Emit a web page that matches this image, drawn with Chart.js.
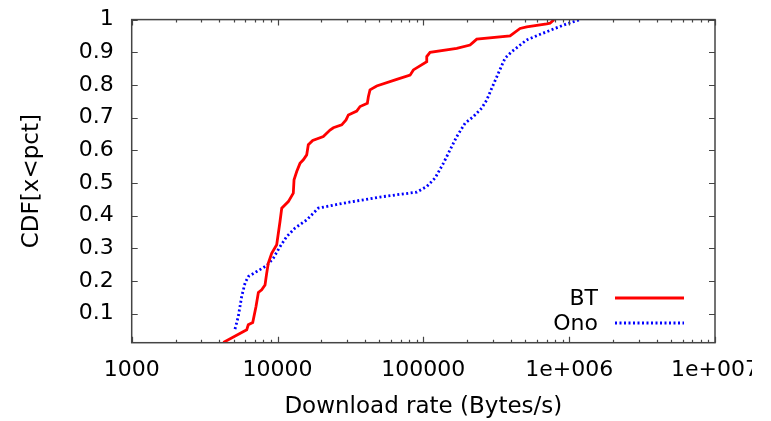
<!DOCTYPE html>
<html>
<head>
<meta charset="utf-8">
<script src="https://cdn.jsdelivr.net/npm/chart.js@4/dist/chart.umd.min.js"></script>
<style>
  html, body { margin: 0; padding: 0; background: #fff; }
  #wrap { width: 752px; height: 421px; overflow: hidden; }
  #wrap canvas { display: block; }
</style>
</head>
<body>
<div id="wrap"><canvas id="myChart" width="800" height="421"></canvas></div>
<script>
// CDF levels and download rates (Bytes/s)
var btCdf  = [0.012, 0.051, 0.066, 0.073, 0.122, 0.165, 0.173, 0.188, 0.224, 0.255, 0.285, 0.311, 0.382, 0.423, 0.443, 0.469, 0.51, 0.535, 0.56, 0.571, 0.586, 0.617, 0.63, 0.642, 0.662, 0.669, 0.678, 0.693, 0.708, 0.72, 0.734, 0.744, 0.764, 0.785, 0.797, 0.817, 0.83, 0.846, 0.871, 0.887, 0.9, 0.912, 0.922, 0.931, 0.94, 0.95, 0.973, 0.978, 0.987, 0.989, 1.0];
var btRate = [4250, 6150, 6300, 6760, 7120, 7390, 7790, 8210, 8430, 8650, 9120, 9870, 10400, 10690, 11860, 12830, 12980, 13540, 14260, 15030, 15850, 16260, 17430, 20610, 22910, 24150, 27560, 29500, 30600, 34930, 36810, 41300, 41970, 43080, 47860, 65700, 81100, 85400, 105500, 105500, 111200, 169500, 209000, 220300, 232400, 393300, 460500, 511700, 701900, 739500, 787500];

var onoCdf  = [0.053, 0.091, 0.153, 0.194, 0.214, 0.229, 0.247, 0.27, 0.305, 0.336, 0.362, 0.387, 0.423, 0.44, 0.457, 0.472, 0.489, 0.515, 0.56, 0.601, 0.642, 0.683, 0.703, 0.729, 0.754, 0.79, 0.836, 0.882, 0.902, 0.938, 0.963, 0.987, 1.0];
var onoRate = [5110, 5380, 5680, 5990, 6310, 7200, 8430, 9360, 10400, 11560, 13180, 15850, 19050, 29850, 50460, 90100, 105500, 120300, 137100, 152400, 169500, 193300, 220300, 251300, 272100, 294500, 326900, 363300, 403600, 511700, 701900, 963000, 1188000];

var xTicks = [1000, 10000, 100000, 1000000, 10000000];
var xTickLabels = ["1000", "10000", "100000", "1e+006", "1e+007"];
var yTicks = [0.1, 0.2, 0.3, 0.4, 0.5, 0.6, 0.7, 0.8, 0.9, 1];

function toPoints(xs, ys) {
    return xs.map(function (x, i) { return { x: x, y: ys[i] }; });
}

var FONT = "'DejaVu Sans', sans-serif";

// gnuplot style frame with inward ticks, plus the key in the lower right
var gnuplotFrame = {
    id: 'gnuplotFrame',
    afterDatasetsDraw: function (chart) {
        var ctx = chart.ctx, a = chart.chartArea;
        var xs = chart.scales.x, ys = chart.scales.y;
        ctx.save();
        ctx.strokeStyle = '#444';
        ctx.lineWidth = 1.2;
        ctx.beginPath();
        // major x ticks
        xTicks.forEach(function (v) {
            var px = Math.round(xs.getPixelForValue(v)) + 0.5;
            ctx.moveTo(px, a.bottom); ctx.lineTo(px, a.bottom - 6);
            ctx.moveTo(px, a.top); ctx.lineTo(px, a.top + 6);
        });
        // minor x ticks
        for (var d = 1000; d < 10000000; d *= 10) {
            for (var m = 2; m < 10; m++) {
                var px = Math.round(xs.getPixelForValue(d * m)) + 0.5;
                ctx.moveTo(px, a.bottom); ctx.lineTo(px, a.bottom - 3);
                ctx.moveTo(px, a.top); ctx.lineTo(px, a.top + 3);
            }
        }
        // y ticks
        yTicks.forEach(function (v) {
            var py = Math.round(ys.getPixelForValue(v)) + 0.5;
            ctx.moveTo(a.left, py); ctx.lineTo(a.left + 6, py);
            ctx.moveTo(a.right, py); ctx.lineTo(a.right - 6, py);
        });
        ctx.stroke();
        ctx.lineWidth = 1.5;
        ctx.strokeRect(a.left, a.top, a.right - a.left, a.bottom - a.top);

        // key
        ctx.font = '22px ' + FONT;
        ctx.fillStyle = '#000';
        ctx.textAlign = 'right';
        ctx.textBaseline = 'middle';
        chart.data.datasets.forEach(function (ds, i) {
            var y = 298 + i * 25;
            ctx.fillText(ds.label, 598, y + 1);
            ctx.beginPath();
            ctx.strokeStyle = ds.borderColor;
            ctx.lineWidth = ds.borderWidth;
            ctx.setLineDash(ds.borderDash || []);
            ctx.moveTo(615, y); ctx.lineTo(684, y);
            ctx.stroke();
            ctx.setLineDash([]);
        });
        ctx.restore();
    }
};

var ctx = document.getElementById('myChart').getContext('2d');

var myChart = new Chart(ctx, {
    type: 'scatter',
    data: {
        datasets: [{
            label: 'BT',
            data: toPoints(btRate, btCdf),
            showLine: true,
            borderColor: '#ff0000',
            borderWidth: 2.8,
            pointRadius: 0,
            tension: 0
        }, {
            label: 'Ono',
            data: toPoints(onoRate, onoCdf),
            showLine: true,
            borderColor: '#0000ff',
            borderWidth: 2.8,
            borderDash: [2, 2.5],
            pointRadius: 0,
            tension: 0
        }]
    },
    options: {
        responsive: false,
        animation: false,
        layout: { padding: { left: 0, right: 85, top: 19.6, bottom: 0 } },
        plugins: {
            legend: { display: false },
            tooltip: { enabled: false }
        },
        scales: {
            x: {
                type: 'logarithmic',
                min: 1000,
                max: 10000000,
                grid: { display: false, drawTicks: false },
                border: { display: false },
                afterBuildTicks: function (scale) {
                    scale.ticks = xTicks.map(function (v) { return { value: v }; });
                },
                afterFit: function (scale) {
                    scale.height = 78.3;
                    scale.paddingLeft = 0;
                    scale.paddingRight = 0;
                },
                ticks: {
                    autoSkip: false,
                    maxRotation: 0,
                    padding: 14,
                    color: '#000',
                    font: { family: FONT, size: 22 },
                    callback: function (v) {
                        var i = xTicks.indexOf(v);
                        return i >= 0 ? xTickLabels[i] : '';
                    }
                },
                title: {
                    display: true,
                    text: 'Download rate (Bytes/s)',
                    color: '#000',
                    font: { family: FONT, size: 23 },
                    padding: { top: 0, bottom: 0 }
                }
            },
            y: {
                min: 0.0112,
                max: 1,
                grid: { display: false, drawTicks: false },
                border: { display: false },
                afterBuildTicks: function (scale) {
                    scale.ticks = yTicks.map(function (v) { return { value: v }; });
                },
                afterFit: function (scale) {
                    scale.width = 131.7;
                    scale.paddingTop = 0;
                    scale.paddingBottom = 0;
                },
                ticks: {
                    padding: 18,
                    color: '#000',
                    font: { family: FONT, size: 22 },
                    callback: function (v) { return String(Number(v.toFixed(1))); }
                },
                title: {
                    display: true,
                    text: 'CDF[x<pct]',
                    color: '#000',
                    font: { family: FONT, size: 23 },
                    padding: { top: 18, bottom: 0 }
                }
            }
        }
    },
    plugins: [gnuplotFrame]
});
</script>
</body>
</html>
